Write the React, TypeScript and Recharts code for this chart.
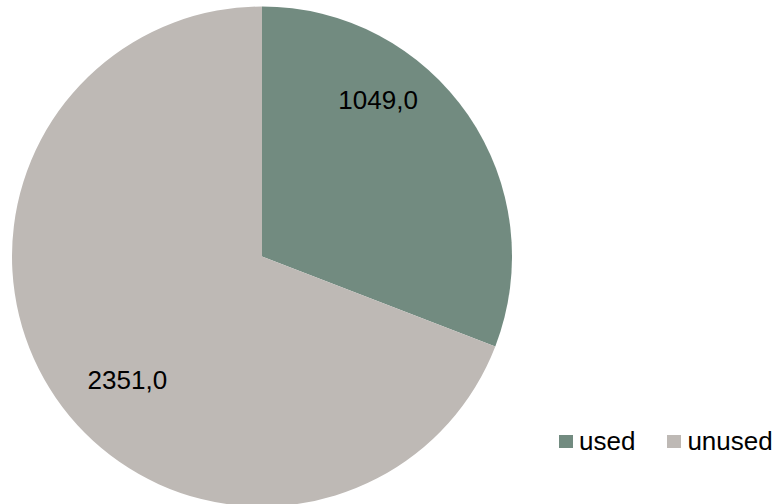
import React from 'react';
import { PieChart, Pie, Cell, Legend } from 'recharts';

// ─── Data ─────────────────────────────────────────────────────────────────────

const categories = ['used', 'unused'];
const values = [1049, 2351];
const colors = ['#728B80', '#BEB9B5'];

const data = categories.map((name, i) => ({ name, value: values[i] }));

const FONT = '"Liberation Sans", Arial, sans-serif';

// Excel-like label placement: radius fraction and angle nudge per slice
const labelRadius = [0.78, 0.73];
const labelNudge = [19, 8];

const RADIAN = Math.PI / 180;

const renderLabel = (props: any) => {
    const { cx, cy, midAngle, outerRadius, index, value } = props;
    const r = outerRadius * labelRadius[index];
    const a = (midAngle + labelNudge[index]) * RADIAN;
    const x = cx + r * Math.cos(a);
    const y = cy - r * Math.sin(a);
    return (
        <text
            x={x}
            y={y}
            textAnchor="middle"
            dominantBaseline="central"
            fill="#000"
            style={{ fontFamily: FONT, fontSize: 26 }}
        >
            {value.toFixed(1).replace('.', ',')}
        </text>
    );
};

// ─── Legend ───────────────────────────────────────────────────────────────────

const LegendContent: React.FC<any> = () => (
    <div style={{ display: 'flex', alignItems: 'center', fontFamily: FONT, fontSize: 26, color: '#000' }}>
        {categories.map((c, i) => (
            <div key={c} style={{ display: 'flex', alignItems: 'center', marginRight: i === 0 ? 32 : 0 }}>
                <span style={{ width: 14, height: 13, background: colors[i], marginRight: 6, display: 'inline-block' }} />
                <span style={{ lineHeight: '26px' }}>{c}</span>
            </div>
        ))}
    </div>
);

export default function App() {
    return (
        <div style={{ position: 'absolute', left: 0, top: 0, width: 775, height: 504, background: '#fff' }}>
            <PieChart width={775} height={504} margin={{ top: 0, right: 0, bottom: 0, left: 0 }}>
                <Pie
                    data={data}
                    dataKey="value"
                    nameKey="name"
                    cx={262}
                    cy={256.5}
                    outerRadius={250}
                    startAngle={90}
                    endAngle={-270}
                    stroke="none"
                    labelLine={false}
                    label={renderLabel}
                    isAnimationActive={false}
                >
                    {data.map((d, i) => (
                        <Cell key={d.name} fill={colors[i]} />
                    ))}
                </Pie>
                <Legend
                    content={<LegendContent />}
                    wrapperStyle={{ position: 'absolute', left: 559, top: 428, width: 'auto' }}
                />
            </PieChart>
        </div>
    );
}
